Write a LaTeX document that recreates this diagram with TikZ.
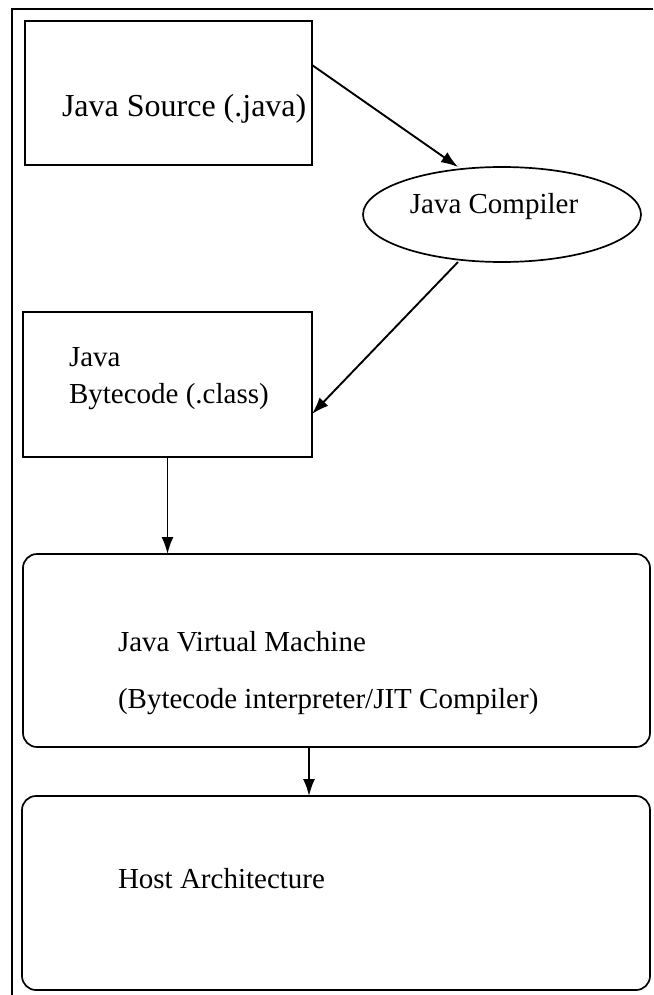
\documentclass[tikz,border=0pt]{standalone}
\usepackage{fontspec}
\setmainfont{Liberation Serif}
\usetikzlibrary{shapes.geometric,arrows.meta}
\begin{document}
\begin{tikzpicture}[x=1pt,y=-1pt,
  every node/.style={inner sep=0pt,outer sep=0pt},
  boxline/.style={draw=black,line width=1.7pt},
  sqbox/.style={boxline,rectangle},
  rbox/.style={boxline,rectangle,rounded corners=14pt},
  lbl/.style={anchor=west,font=\fontsize{29}{34}\selectfont},
  conn/.style={line width=1.9pt,-{Latex[length=17pt,width=12pt]}}
]
\useasboundingbox (0,0) rectangle (653,995);
\fill[white] (0,0) rectangle (653,995);
% outer frame
\coordinate (fbl) at (12,995);
\coordinate (ftl) at (12,9);
\coordinate (ftr) at (653,9);
\draw[line width=1.6pt] (fbl) -- (ftl) -- (ftr);
% boxes
\node[sqbox,minimum width=287pt,minimum height=144pt] (src) at (168.5,93) {};
\node[boxline,ellipse,minimum width=278pt,minimum height=95pt] (comp) at (502,214.5) {};
\node[sqbox,minimum width=289pt,minimum height=145pt] (bc) at (167.5,384.5) {};
\node[rbox,minimum width=627pt,minimum height=193pt] (jvm) at (336.5,650.5) {};
\node[rbox,minimum width=628pt,minimum height=194pt] (host) at (336,893) {};
% labels
\node[lbl,font=\fontsize{32}{38}\selectfont] (tsrc) at (62,109) {Java Source (.java)};
\node[anchor=center,font=\fontsize{29}{34}\selectfont] (tcomp) at (494,207) {Java Compiler};
\node[lbl] (tbc1) at (69,357) {Java};
\node[lbl] (tbc2) at (69,397) {Bytecode (.class)};
\node[lbl] (tjvm1) at (118,642) {Java Virtual Machine};
\node[lbl] (tjvm2) at (118,702) {(Bytecode interpreter/JIT Compiler)};
\node[lbl] (thost) at (118,879) {Host Architecture};
% connectors
\draw[conn] ([yshift=28pt]src.east) -- ([xshift=-44pt]comp.north);
\draw[conn] ([xshift=-44pt]comp.south) -- ([yshift=-29.5pt]bc.east);
\draw[conn] (bc.south) -- (bc.south |- jvm.north);
\draw[conn] ([xshift=-27.5pt]jvm.south) -- ([xshift=-27.5pt]jvm.south |- host.north);
\end{tikzpicture}
\end{document}
